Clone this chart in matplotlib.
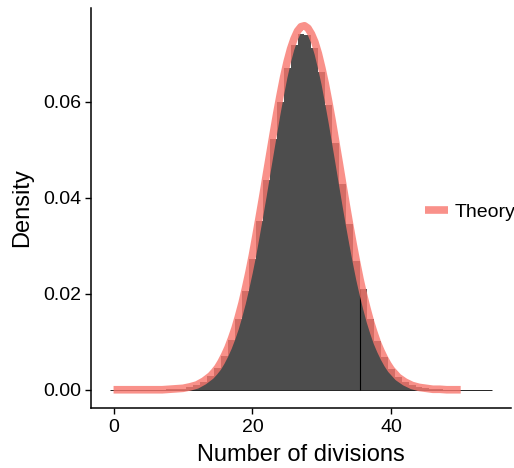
import matplotlib
matplotlib.use("Agg")
import matplotlib.pyplot as plt
from matplotlib.lines import Line2D

plt.rcParams['font.family'] = ['Liberation Sans', 'DejaVu Sans']

# Histogram of the simulated number of divisions (density per unit bin)
bin_centers = list(range(0, 55))
hist_density = [0, 0, 0, 0, 0, 0, 0, 0, 0.0001, 0.0001, 0.0002,
                0.0005, 0.0009, 0.0017, 0.0028, 0.0045, 0.0070, 0.0104,
                0.0148, 0.0205, 0.0273, 0.0352, 0.0437, 0.0522, 0.0600,
                0.0670, 0.0718, 0.0740, 0.0739, 0.0712, 0.0662, 0.0594,
                0.0513, 0.0428, 0.0345, 0.0268, 0.0210, 0.0148, 0.0102,
                0.0068, 0.0044, 0.0027, 0.0016, 0.0009, 0.0005, 0.0003,
                0.0001, 0.0001, 0, 0, 0, 0, 0, 0, 0]
marked_edge = 35.5

# Theoretical density
theory_x = [0, 1, 2, 3, 4, 5, 6, 7, 8, 9, 10, 11, 12, 13,
            14, 14.5, 15, 15.5, 16, 16.5, 17, 17.5, 18, 18.5, 19, 19.5,
            20, 20.5, 21, 21.5, 22, 22.5, 23, 23.5, 24, 24.5, 25, 25.5,
            26, 26.5, 27, 27.5, 28, 28.5, 29, 29.5, 30, 30.5, 31, 31.5,
            32, 32.5, 33, 33.5, 34, 34.5, 35, 35.5, 36, 36.5, 37, 37.5,
            38, 38.5, 39, 39.5, 40, 40.5,
            41, 42, 43, 44, 45, 46, 47, 48, 49, 50]
theory_y = [0, 0, 0, 0, 0, 0, 0, 0, 0.0001, 0.0002, 0.0003, 0.0006, 0.0010, 0.0018,
            0.0029, 0.0037, 0.0046, 0.0058, 0.0072, 0.0088, 0.0107, 0.0128, 0.0153, 0.0180, 0.0211, 0.0244,
            0.0280, 0.0320, 0.0361, 0.0403, 0.0447, 0.0490, 0.0533, 0.0575, 0.0614, 0.0651, 0.0683, 0.0710,
            0.0731, 0.0747, 0.0756, 0.0758, 0.0753, 0.0741, 0.0724, 0.0700, 0.0670, 0.0637, 0.0599, 0.0559,
            0.0516, 0.0473, 0.0429, 0.0386, 0.0344, 0.0304, 0.0266, 0.0230, 0.0198, 0.0169, 0.0142, 0.0119,
            0.0098, 0.0081, 0.0066, 0.0053, 0.0042, 0.0034,
            0.0026, 0.0016, 0.0009, 0.0005, 0.0003, 0.0001, 0.0001, 0, 0, 0]

salmon = '#F8766D'

fig = plt.figure(figsize=(5.14, 4.68), dpi=100)
ax = fig.add_axes([91 / 514, 60 / 468, 420 / 514, 400 / 468])

ax.bar(bin_centers, hist_density, width=1.0, color='#4D4D4D', linewidth=0, zorder=1)
ax.hlines(0, bin_centers[0] - 0.5, bin_centers[-1] + 0.5, color='black', linewidth=0.6, zorder=2)
edge_height = hist_density[bin_centers.index(int(marked_edge + 0.5))]
ax.vlines(marked_edge, 0, edge_height, color='black', linewidth=0.8, zorder=2)
ax.plot(theory_x, theory_y, color=salmon, alpha=0.8, linewidth=5.5,
        solid_capstyle='butt', solid_joinstyle='round', zorder=3)

ax.set_xlim(-3.25, 57.25)
ax.set_ylim(-0.0038, 0.0795)
ax.set_xticks([0, 20, 40])
ax.set_yticks([0.00, 0.02, 0.04, 0.06])
ax.set_yticklabels(['0.00', '0.02', '0.04', '0.06'])
ax.tick_params(labelsize=14, length=4, width=1.0, color='black', labelcolor='black', pad=3)
ax.tick_params(axis='x', pad=4)
for side in ['top', 'right']:
    ax.spines[side].set_visible(False)
for side in ['left', 'bottom']:
    ax.spines[side].set_linewidth(1.1)
    ax.spines[side].set_color('black')

ax.set_xlabel('Number of divisions', fontsize=17, labelpad=6)
ax.set_ylabel('Density', fontsize=17, labelpad=7)

handle = Line2D([0], [0], color=salmon, alpha=0.8, linewidth=5.5, solid_capstyle='butt')
fig.legend([handle], ['Theory'], loc='center left', bbox_to_anchor=(425 / 514, 1 - 212 / 468),
           frameon=False, fontsize=14, handlelength=1.2, handletextpad=0.3,
           borderaxespad=0, borderpad=0)

fig.savefig('out.png', dpi=100, facecolor='white')
